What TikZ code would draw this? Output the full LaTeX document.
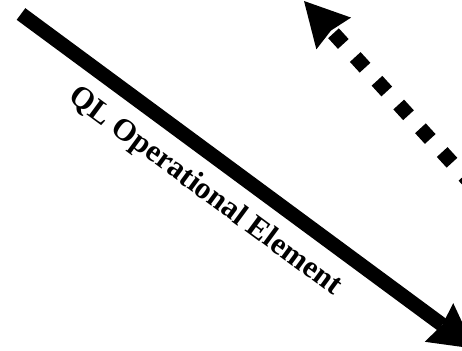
\documentclass[tikz,border=0pt]{standalone}
\usepackage{fontspec}
\setmainfont{Liberation Serif}
\usetikzlibrary{arrows.meta}
\begin{document}
\begin{tikzpicture}[x=1pt,y=-1pt,
  mainarrow/.style={line width=14.5pt, -{Stealth[length=44pt,width=48pt,inset=4pt,line width=0pt]}},
  dotarrow/.style={line width=14.5pt, dash pattern=on 14.5pt off 17.7pt, -{Stealth[length=44pt,width=47pt,inset=4pt,line width=0pt]}},
  lbl/.style={font=\bfseries\fontsize{31}{36}\selectfont, inner sep=0pt}]
\useasboundingbox (0,0) rectangle (462,350);
\clip (0,0) rectangle (462,350);
\coordinate (m1) at (21,14);
\coordinate (m2) at (474.4,348.6);
\coordinate (d1) at (473.7,186.5);
\coordinate (d2) at (304,1);
\draw[mainarrow] (m1) -- (m2);
\draw[dotarrow] (d1) -- (d2);
\node[lbl, rotate=-36.4] (t) at (205,192) {QL Operational Element};
\end{tikzpicture}
\end{document}
